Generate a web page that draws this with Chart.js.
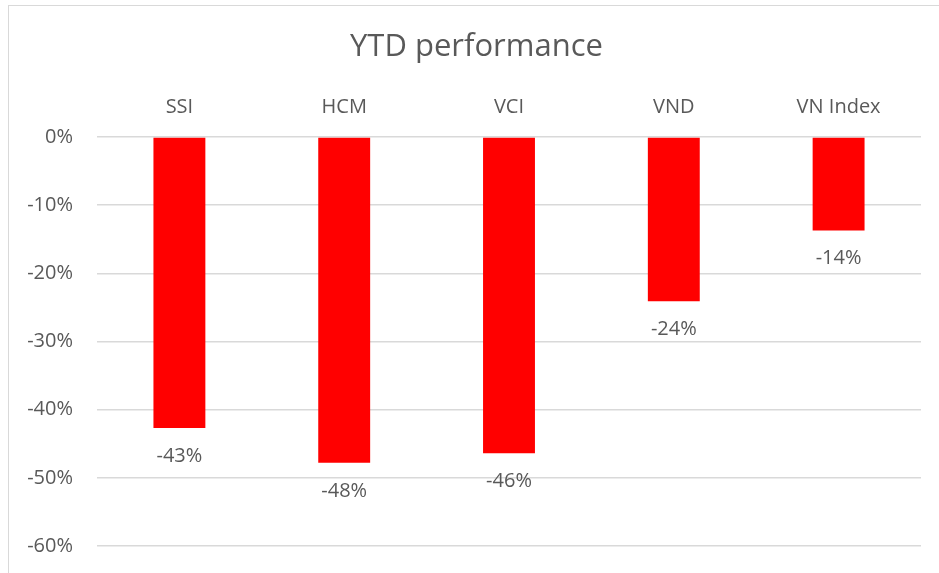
<!DOCTYPE html>
<html>
<head>
<meta charset="utf-8">
<script src="https://cdn.jsdelivr.net/npm/chart.js@4"></script>
<style>
html,body{margin:0;padding:0;background:#fff;overflow:hidden;}
#wrap{position:relative;width:939px;height:573px;}
#frame{position:absolute;left:8px;top:5px;width:1000px;height:1000px;border:1.5px solid #d9d9d9;box-sizing:border-box;pointer-events:none;}
canvas{position:absolute;left:0;top:0;}
</style>
</head>
<body>
<div id="wrap">
<canvas id="c" width="939" height="573"></canvas>
<div id="frame"></div>
</div>
<script>
const categories = ["SSI", "HCM", "VCI", "VND", "VN Index"];
const ytdPerformance = [-42.7, -47.8, -46.4, -24.1, -13.7];
const yTicks = [0, -10, -20, -30, -40, -50, -60];

const FONT = "'Open Sans', Lato, sans-serif";
const TXT = "#595959";
const TITLE_SIZE = 31, TITLE_PAD_TOP = 29, TITLE_PAD_BOTTOM = 8;

const labelPlugin = {
  id: 'barLabels',
  afterDatasetsDraw(chart) {
    const ctx = chart.ctx;
    const meta = chart.getDatasetMeta(0);
    ctx.save();
    ctx.font = "20px " + FONT;
    ctx.fillStyle = TXT;
    ctx.textAlign = 'center';
    ctx.textBaseline = 'middle';
    meta.data.forEach((el, i) => {
      const v = chart.data.datasets[0].data[i];
      ctx.fillText(Math.round(v) + "%", el.x, el.y + 28);
    });
    ctx.restore();
  }
};

new Chart(document.getElementById('c'), {
  type: 'bar',
  data: {
    labels: categories,
    datasets: [{
      data: ytdPerformance,
      backgroundColor: '#ff0000',
      borderWidth: 0,
      barPercentage: 0.315,
      categoryPercentage: 1
    }]
  },
  plugins: [labelPlugin],
  options: {
    responsive: false,
    animation: false,
    layout: { autoPadding: false, padding: { left: 14, right: 0, top: 0, bottom: 27 } },
    plugins: {
      legend: { display: false },
      tooltip: { enabled: false },
      title: {
        display: true,
        text: 'YTD performance',
        color: TXT,
        font: { family: FONT, size: TITLE_SIZE, weight: 'normal', lineHeight: 1.2 },
        padding: { top: TITLE_PAD_TOP, bottom: TITLE_PAD_BOTTOM }
      }
    },
    scales: {
      x: {
        position: 'top',
        grid: { display: false },
        border: { display: false },
        ticks: { color: TXT, font: { family: FONT, size: 20 }, padding: 10 },
        afterFit(scale) { scale.height = 137 - (TITLE_PAD_TOP + TITLE_SIZE * 1.2 + TITLE_PAD_BOTTOM); }
      },
      y: {
        min: -60,
        max: 0,
        afterBuildTicks(scale) { scale.ticks = yTicks.map(v => ({ value: v })); },
        grid: { color: '#d9d9d9', lineWidth: 1.5, drawTicks: false },
        border: { display: false },
        ticks: {
          color: TXT,
          font: { family: FONT, size: 20 },
          padding: 24,
          callback: v => v + '%'
        },
        afterFit(scale) { scale.width = 83; scale.paddingTop = 0; scale.paddingBottom = 0; }
      },
      yRight: {
        type: 'linear',
        position: 'right',
        display: true,
        grid: { display: false },
        border: { display: false },
        ticks: { display: false },
        afterFit(scale) { scale.width = 18; scale.paddingTop = 0; scale.paddingBottom = 0; }
      }
    }
  }
});
</script>
</body>
</html>
